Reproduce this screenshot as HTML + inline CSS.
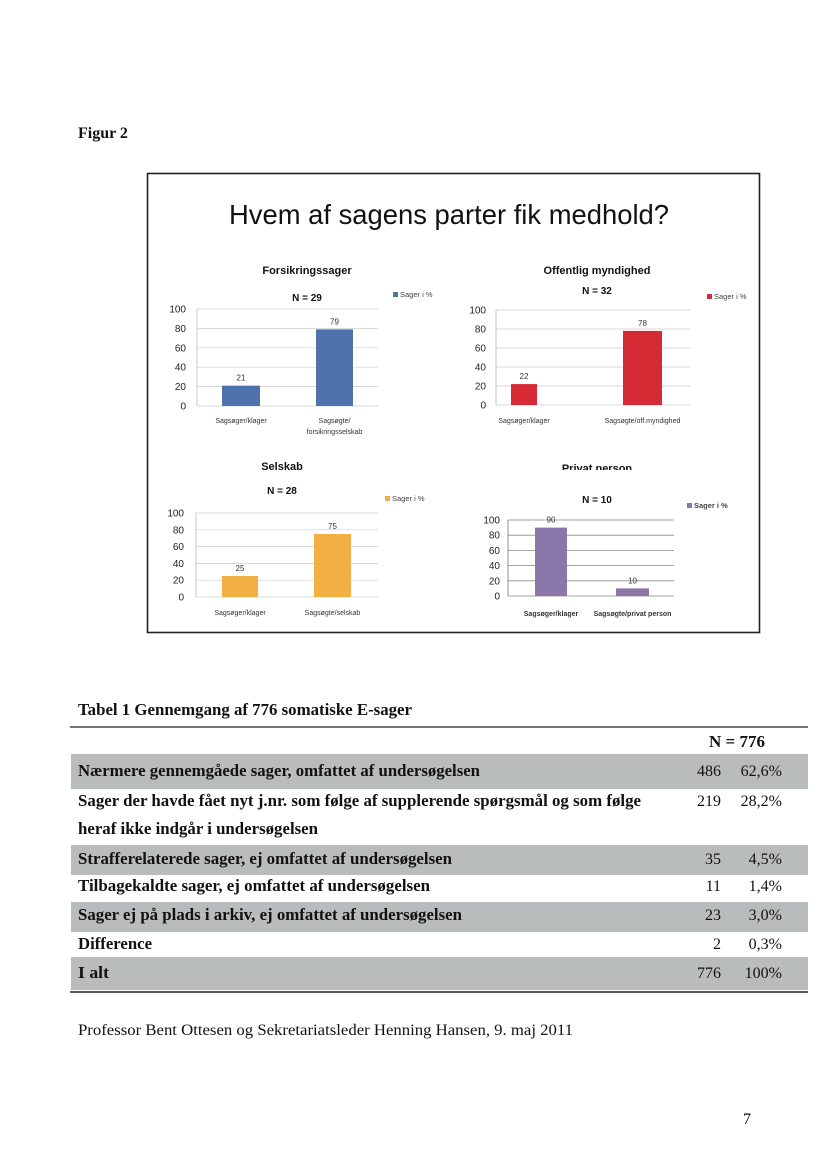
<!DOCTYPE html>
<html><head><meta charset="utf-8">
<style>
html,body{margin:0;padding:0;background:#fff;}
body{width:826px;height:1169px;position:relative;overflow:hidden;font-family:"Liberation Serif",serif;}
svg{position:absolute;left:0;top:0;}
.t{font-family:"Liberation Serif",serif;}
.s{font-family:"Liberation Sans",sans-serif;}
</style></head>
<body>
<svg id="page" width="826" height="1169" viewBox="0 0 826 1169">
  <text class="t" x="78" y="138" font-size="16" font-weight="bold" fill="#111">Figur 2</text>
  <rect x="147.5" y="173.5" width="612" height="459" fill="#fff" stroke="#222" stroke-width="1.6"/>
  <text class="s" x="449" y="224" font-size="28" text-anchor="middle" fill="#111" textLength="440" lengthAdjust="spacingAndGlyphs">Hvem af sagens parter fik medhold?</text>
  <g id="charts"></g>

  <text class="t" x="78" y="715" font-size="17" font-weight="bold" fill="#111" textLength="334" lengthAdjust="spacingAndGlyphs">Tabel 1 Gennemgang af 776 somatiske E-sager</text>
  <line x1="70" y1="727" x2="808" y2="727" stroke="#222" stroke-width="1.2"/>
  <text class="t" x="737" y="747" font-size="17" font-weight="bold" text-anchor="middle" fill="#111">N = 776</text>
  <g id="table"></g>
  <line x1="70" y1="992" x2="808" y2="992" stroke="#222" stroke-width="1.6"/>

  <text class="t" x="78" y="1035" font-size="16" fill="#111" textLength="495" lengthAdjust="spacingAndGlyphs">Professor Bent Ottesen og Sekretariatsleder Henning Hansen, 9. maj 2011</text>
  <text class="t" x="743" y="1124" font-size="16" fill="#111">7</text>
</svg>
<script>
const NS='http://www.w3.org/2000/svg';
// ---- chart data ----
const chartTitles=['Forsikringssager','Offentlig myndighed','Selskab','Privat nerson'];
const chartN=['N = 29','N = 32','N = 28','N = 10'];
const catsForsikring=['Sagsøger/klager','Sagsøgte/|forsikringsselskab'];
const catsMyndighed=['Sagsøger/klager','Sagsøgte/off.myndighed'];
const catsSelskab=['Sagsøger/klager','Sagsøgte/selskab'];
const catsPrivat=['Sagsøger/klager','Sagsøgte/privat person'];
const valsForsikring=[21,79];
const valsMyndighed=[22,78];
const valsSelskab=[25,75];
const valsPrivat=[90,10];
const yTicks=[0,20,40,60,80,100];
const legendLabel='Sager i %';

function el(tag,attrs,parent){const e=document.createElementNS(NS,tag);for(const k in attrs)e.setAttribute(k,attrs[k]);parent.appendChild(e);return e;}

const layouts=[
 {x0:197,x1:378,y0:406,y1:309,bars:[[222,260],[316,353]],color:'#4f72ad',tx:307,ty:274,nx:307,ny:301,lx:393,ly:297,catY:423,tickX:186,dark:false},
 {x0:496,x1:690,y0:405,y1:310,bars:[[511,537],[623,662]],color:'#d62a35',tx:597,ty:274,nx:597,ny:294,lx:707,ly:299,catY:423,tickX:486,dark:false},
 {x0:196,x1:378,y0:597,y1:513,bars:[[222,258],[314,351]],color:'#f2b044',tx:282,ty:470,nx:282,ny:494,lx:385,ly:501,catY:615,tickX:184,dark:false},
 {x0:508,x1:674,y0:596,y1:520,bars:[[535,567],[616,649]],color:'#8a76a8',tx:597,ty:472,nx:597,ny:503,lx:687,ly:508,catY:616,tickX:500,dark:true}
];
const catsAll=[catsForsikring,catsMyndighed,catsSelskab,catsPrivat];
const valsAll=[valsForsikring,valsMyndighed,valsSelskab,valsPrivat];
const cg=document.getElementById('charts');

layouts.forEach((L,i)=>{
  const g=el('g',{},cg);
  
  
  const yScale=v=>L.y0+(L.y1-L.y0)*v/100;
  const t=el('text',{x:L.tx,y:L.ty,'font-size':11,'font-weight':'bold','text-anchor':'middle','font-family':'Liberation Sans, sans-serif',fill:'#111'},g);
  t.textContent=chartTitles[i];
  
  
  if(i===3){
    const cp=el('clipPath',{id:'cp4'},g); el('rect',{x:540,y:455,width:120,height:15},cp);
    t.setAttribute('clip-path','url(#cp4)');
  }
  const n=el('text',{x:L.nx,y:L.ny,'font-size':10,'font-weight':'bold','text-anchor':'middle','font-family':'Liberation Sans, sans-serif',fill:'#111'},g);
  n.textContent=chartN[i];
  
  
  const lg=el('g',{},g);
  
  
  el('rect',{x:L.lx,y:L.ly-5,width:5,height:5,fill:L.color},lg);
  const lt=el('text',{x:L.lx+7,y:L.ly,'font-size':7.5,'font-family':'Liberation Sans, sans-serif',fill:'#444','font-weight':L.dark?'bold':'normal'},lg);
  lt.textContent=legendLabel;
  yTicks.forEach(v=>{
    const y=yScale(v);
    const gl=el('line',{x1:L.x0,x2:L.x1,y1:y,y2:y,stroke:L.dark?'#888':'#ccc','stroke-width':L.dark?0.8:0.7},g);
    
    
    const tk=el('text',{x:L.tickX,y:y+3.5,'font-size':10,'text-anchor':'end','font-family':'Liberation Sans, sans-serif',fill:'#222'},g);
    tk.textContent=v;
    
    
  });
  el('line',{x1:L.x0,x2:L.x0,y1:L.y1,y2:L.y0,stroke:L.dark?'#777':'#bbb','stroke-width':0.8},g);
  valsAll[i].forEach((v,j)=>{
    const [bx0,bx1]=L.bars[j];
    const y=yScale(v);
    const r=el('rect',{x:bx0,y:y,width:bx1-bx0,height:L.y0-y,fill:L.color},g);
    
    
    const vl=el('text',{x:(bx0+bx1)/2,y:y-5,'font-size':8,'text-anchor':'middle','font-family':'Liberation Sans, sans-serif',fill:'#333'},g);
    vl.textContent=v;
    
    
    const lines=catsAll[i][j].split('|');
    lines.forEach((s,k)=>{
      const c=el('text',{x:(bx0+bx1)/2,y:L.catY+k*11,'font-size':7,'text-anchor':'middle','font-family':'Liberation Sans, sans-serif',fill:'#333','font-weight':L.dark?'bold':'normal'},g);
      c.textContent=s;
      
      
    });
  });
});

// ---- table ----
const rowLabels=['Nærmere gennemgåede sager, omfattet af undersøgelsen','Sager der havde fået nyt j.nr. som følge af supplerende spørgsmål og som følge|heraf ikke indgår i undersøgelsen','Strafferelaterede sager, ej omfattet af undersøgelsen','Tilbagekaldte sager, ej omfattet af undersøgelsen','Sager ej på plads i arkiv, ej omfattet af undersøgelsen','Difference','I alt'];
const rowLabelWidths=[[402],[563,240],[374],[352],[384],[74],[31]];
const rowCounts=['486','219','35','11','23','2','776'];
const rowPcts=['62,6%','28,2%','4,5%','1,4%','3,0%','0,3%','100%'];
const rowTextY=[776,806,864,891,920,949,978];
const shadeBands=[[754,789],null,[845,875],null,[902,932],null,[957,990]];
const tg=document.getElementById('table');
rowLabels.forEach((lab,i)=>{
  const g=el('g',{},tg);
  
  
  if(shadeBands[i]) el('rect',{x:71,y:shadeBands[i][0],width:737,height:shadeBands[i][1]-shadeBands[i][0],fill:'#b8bcbc'},g);
  lab.split('|').forEach((s,k)=>{
    const t=el('text',{x:78,y:rowTextY[i]+k*28,'font-size':17,'font-weight':'bold','font-family':'Liberation Serif, serif',fill:'#111'},g);
    t.textContent=s;
    t.setAttribute('textLength',rowLabelWidths[i][k]);
    t.setAttribute('lengthAdjust','spacingAndGlyphs');
  });
  const c=el('text',{x:721,y:rowTextY[i],'font-size':16,'text-anchor':'end','font-family':'Liberation Serif, serif',fill:'#111'},g);
  c.textContent=rowCounts[i];
  const p=el('text',{x:782,y:rowTextY[i],'font-size':16,'text-anchor':'end','font-family':'Liberation Serif, serif',fill:'#111'},g);
  p.textContent=rowPcts[i];
});
</script>
</body></html>
